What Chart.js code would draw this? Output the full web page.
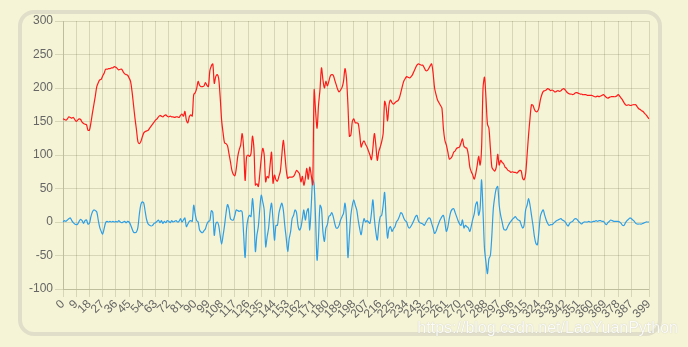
<!DOCTYPE html>
<html>
<head>
<meta charset="utf-8">
<script src="https://cdn.jsdelivr.net/npm/chart.js@4/dist/chart.umd.min.js"></script>
<style>
  html, body { margin: 0; padding: 0; width: 688px; height: 347px; background: #f5f4d6; overflow: hidden; }
  #frame { position: absolute; left: 18px; top: 10px; width: 636px; height: 318px; border: 4px solid #e0dec9; border-radius: 16px; box-sizing: content-box; }
  #wrap { position: absolute; left: 0; top: 0; width: 688px; height: 347px; }
  #wm { position: absolute; right: 10px; top: 319px; font-family: "Liberation Sans", Arial, sans-serif; font-size: 16px; line-height: 18px; color: rgba(255,255,255,0.92); text-shadow: 0 0 1px rgba(150,150,140,0.6); white-space: nowrap; }
</style>
</head>
<body>
<div id="frame"></div>
<div id="wrap"><canvas id="c" width="688" height="347"></canvas></div>
<div id="wm">https://blog.csdn.net/LaoYuanPython</div>
<script>
const categories = Array.from({length: 400}, (_, i) => String(i));
const xTickLabels = [0,9,18,27,36,45,54,63,72,81,90,99,108,117,126,135,144,153,162,171,180,189,198,207,216,225,234,243,252,261,270,279,288,297,306,315,324,333,342,351,360,369,378,387,399];
const yTicks = [-100,-50,0,50,100,150,200,250,300];

const redSeries = [
154,153,152,154,157,156,155,156,153,150,
152,154,153,149,147,146,145,137,137,148,
162,175,188,202,208,212,213,218,222,228,
228,229,229,230,230,232,231,229,227,228,
228,224,221,220,219,215,210,195,175,155,
138,120,117,120,127,133,135,136,137,140,
143,146,149,152,154,157,159,158,157,159,
160,158,157,158,157,157,156,157,157,156,
159,161,158,165,152,148,157,160,158,190,
193,199,210,204,202,202,203,208,204,202,
226,233,236,207,217,220,214,187,152,133,
118,117,114,102,90,77,71,69,80,98,
108,115,132,110,62,97,100,98,102,128,
110,55,57,53,72,95,110,100,60,68,
66,85,104,58,70,63,61,68,76,100,
122,102,78,65,67,67,67,68,72,77,
75,72,60,68,55,65,80,64,82,70,
56,197,165,140,175,198,230,212,200,210,
203,210,218,220,219,212,205,198,194,197,
201,210,229,215,175,128,130,150,154,148,
148,147,132,112,118,121,116,112,106,100,
93,110,132,115,92,105,112,120,132,180,
172,151,175,182,178,176,178,180,181,185,
193,202,210,214,217,216,215,217,220,225,
230,234,236,235,234,234,230,226,226,229,
233,236,222,200,190,182,178,174,170,140,
122,115,105,94,95,98,104,106,110,111,
112,118,124,113,111,110,100,82,75,70,
64,72,84,98,85,110,200,216,185,146,
140,110,82,78,76,82,101,85,92,89,
87,82,80,77,76,74,75,74,74,73,
75,77,76,65,63,72,100,130,155,175,
174,168,165,165,170,182,190,195,196,197,
199,198,196,197,196,194,195,196,195,196,
198,199,197,194,192,191,191,190,191,193,
193,192,191,191,190,190,190,189,189,189,
189,188,187,187,188,187,188,189,190,188,
186,185,186,187,187,187,187,188,190,188,
185,182,178,175,174,175,174,174,175,175,
175,172,169,168,166,165,162,160,157,154
];

const blueSeries = [
0,2,1,3,5,6,2,-1,-3,-4,
-3,1,4,2,-2,2,3,-3,-2,8,
15,18,17,15,3,-8,-14,-18,-10,-1,
1,0,1,0,1,0,1,0,2,0,
-1,0,1,-1,1,0,-4,-10,-15,-16,
-15,-8,12,26,30,28,15,3,-3,-5,
-6,-5,-2,-1,1,3,-1,2,-2,1,
-1,2,1,-1,2,0,1,2,0,1,
5,0,3,6,-7,-3,1,2,1,25,
12,2,0,-12,-15,-16,-13,-10,-3,1,
2,17,14,-20,-3,0,-5,-20,-33,-20,
-5,13,26,20,5,3,3,10,18,17,
16,17,15,-19,-53,-10,5,10,8,35,
10,-44,-20,-7,20,40,30,18,-37,-22,
-9,15,28,3,-27,-5,-5,13,22,28,
18,-5,-24,-44,-25,-14,5,10,18,14,
-5,-12,-8,5,18,3,15,20,-12,23,
63,55,3,-57,-22,25,20,-15,-29,-9,
-4,8,10,14,8,-2,-9,-9,-5,3,
8,13,28,5,-53,-20,10,25,33,25,
18,3,-10,-19,-5,5,0,2,0,-2,
13,33,5,-15,-27,-5,8,10,25,44,
5,-24,-10,-7,-14,-10,-7,0,3,8,
14,12,6,2,0,-7,-9,-6,-2,3,
8,10,2,-1,-2,-3,-5,-1,3,6,
5,-2,-9,-17,-14,-7,-1,4,8,10,
0,-14,-8,5,15,19,20,14,8,2,
-3,-5,3,-9,-5,-7,-9,-14,-6,4,
12,26,30,10,20,63,15,-40,-60,-77,
-55,-50,-20,20,38,50,53,25,10,0,
-10,-12,-11,-6,-2,1,4,6,8,5,
3,2,-4,-9,-4,18,25,35,25,10,
-5,-22,-32,-34,-15,8,15,18,10,3,
-2,-5,-4,-4,-2,0,2,3,4,5,
3,2,0,-4,-6,-2,0,1,4,5,
4,1,-1,-3,-1,0,0,0,1,0,
0,1,1,2,1,2,2,1,1,-2,
-4,-1,1,3,2,1,1,1,1,0,
-2,-5,-5,-1,2,4,6,5,3,1,
-2,-3,-3,-3,-3,-2,-1,0,0,0
];

Chart.defaults.font.family = '"Liberation Sans", Arial, sans-serif';
Chart.defaults.font.size = 12;
Chart.defaults.color = '#666';

const gridColor = 'rgba(60,60,20,0.16)';

new Chart(document.getElementById('c'), {
  type: 'line',
  data: {
    labels: categories,
    datasets: [
      { data: redSeries, borderColor: '#ff1a1a', borderWidth: 1.2, pointRadius: 0, tension: 0.3, fill: false },
      { data: blueSeries, borderColor: '#2e9fe6', borderWidth: 1.2, pointRadius: 0, tension: 0.3, fill: false }
    ]
  },
  options: {
    responsive: false,
    animation: false,
    events: [],
    layout: { padding: { top: 21, right: 39, left: 0, bottom: 0 } },
    plugins: { legend: { display: false }, tooltip: { enabled: false } },
    scales: {
      x: {
        grid: { color: gridColor, tickLength: 8 },
        border: { color: gridColor },
        ticks: {
          autoSkip: false, minRotation: 45, maxRotation: 45, padding: 0,
          callback: function (value) {
            const lab = Number(this.getLabelForValue(value));
            return xTickLabels.includes(lab) ? String(lab) : null;
          }
        },
        afterFit: function (scale) { scale.height = 347 - 289; }
      },
      y: {
        min: yTicks[0], max: yTicks[yTicks.length - 1],
        grid: { color: gridColor, tickLength: 8 },
        border: { color: gridColor },
        ticks: { stepSize: 50, padding: 2 },
        afterFit: function (scale) { scale.width = 63; }
      }
    }
  }
});
</script>
</body>
</html>
